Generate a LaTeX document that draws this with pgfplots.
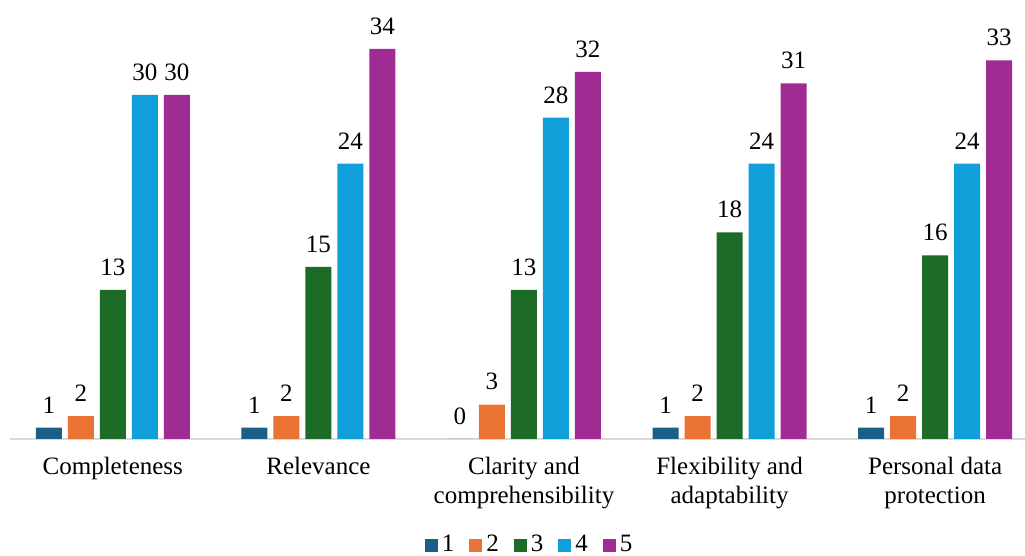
\documentclass[border=0pt]{standalone}
\usepackage{pgfplots}
\pgfplotsset{compat=1.18}
\usepackage{fontspec}
\setmainfont{Liberation Serif}

\definecolor{cOne}{HTML}{1B5F86}
\definecolor{cTwo}{HTML}{EB7334}
\definecolor{cThree}{HTML}{1C6B27}
\definecolor{cFour}{HTML}{109FD8}
\definecolor{cFive}{HTML}{A02B93}

\begin{document}
\begin{tikzpicture}
\begin{axis}[
  scale only axis,
  width=507.5pt, height=218pt,
  xmin=-0.5, xmax=4.437,
  ymin=0, ymax=38,
  clip=false,
  ybar=3pt, bar width=13pt,
  axis x line*=bottom,
  axis y line=none,
  x axis line style={draw=black!15, line width=1pt, -},
  xtick={0,1,2,3,4},
  xticklabels={Completeness,Relevance,{Clarity and\\comprehensibility},{Flexibility and\\adaptability},{Personal data\\protection}},
  major tick length=0pt,
  xticklabel style={align=center, anchor=north, inner sep=0pt, yshift=-9pt,
    font=\fontsize{12.5}{14.5}\selectfont},
  /pgf/number format/assume math mode=true,
  nodes near coords={\pgfmathprintnumber[assume math mode=true]{\pgfplotspointmeta}},
  every node near coord/.append style={font=\fontsize{12.5}{14.5}\selectfont, anchor=south, inner sep=0pt, yshift=7pt, black},
  legend columns=5,
  legend style={draw=none, at={(0.513,0)}, anchor=center, yshift=-53pt,
    inner sep=1pt,
    font=\fontsize{12.5}{14.5}\selectfont,
    /tikz/every even column/.append style={column sep=5.5pt}},
  legend image code/.code={\fill[#1] (0pt,-3.4pt) rectangle (6.5pt,3.1pt);},
]
\addplot[fill=cOne, draw=none] coordinates {(0,1) (1,1) (2,0) (3,1) (4,1)};
\addplot[fill=cTwo, draw=none] coordinates {(0,2) (1,2) (2,3) (3,2) (4,2)};
\addplot[fill=cThree, draw=none] coordinates {(0,13) (1,15) (2,13) (3,18) (4,16)};
\addplot[fill=cFour, draw=none] coordinates {(0,30) (1,24) (2,28) (3,24) (4,24)};
\addplot[fill=cFive, draw=none] coordinates {(0,30) (1,34) (2,32) (3,31) (4,33)};
\legend{1,2,3,4,5}
\end{axis}
\pgfresetboundingbox
\path (current axis.south west) ++(-5pt,-58.5pt) rectangle ([yshift=1.5pt]current axis.north east);
\end{tikzpicture}
\end{document}
